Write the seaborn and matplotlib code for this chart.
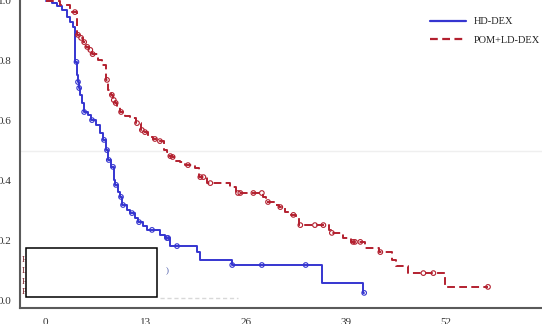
import matplotlib
matplotlib.use("Agg")
import matplotlib.pyplot as plt
from matplotlib.patches import Rectangle
from matplotlib.lines import Line2D
import seaborn as sns
import pandas as pd

# ---- data ----
hd_t = [0, 0.82, 1.47, 2.12, 2.77, 3.16, 3.55, 3.87, 4.07, 4.15, 4.28, 4.46, 4.7, 4.98, 5.5, 5.9,
        6.5, 7.06, 7.45, 7.84, 8.1, 8.49, 8.88, 9.0, 9.4, 9.66, 9.92, 10.57, 10.96, 11.6, 12.0,
        12.65, 13.17, 14.86, 15.5, 16.16, 19.7, 20.1, 24.2, 35.9, 41.3, 41.4]
hd_s = [1.0, 0.993, 0.983, 0.97, 0.947, 0.93, 0.913, 0.797, 0.753, 0.73, 0.71, 0.687, 0.66, 0.63, 0.62, 0.603,
        0.587, 0.56, 0.537, 0.503, 0.47, 0.447, 0.403, 0.387, 0.363, 0.347, 0.32, 0.303, 0.293, 0.277, 0.263,
        0.25, 0.237, 0.22, 0.21, 0.183, 0.163, 0.137, 0.12, 0.06, 0.027, 0.027]
hd_cens_t = [4.0, 4.2, 4.35, 5.0, 6.02, 7.58, 7.97, 8.2, 8.75, 9.14, 9.79, 10.05, 11.22, 12.13,
             13.82, 15.77, 15.9, 17.07, 24.25, 28.1, 33.8, 41.4]
hd_cens_s = [0.797, 0.73, 0.71, 0.63, 0.603, 0.537, 0.503, 0.47, 0.447, 0.387, 0.347, 0.32, 0.293, 0.263,
             0.237, 0.21, 0.21, 0.183, 0.12, 0.12, 0.12, 0.027]

pom_t = [0, 1.86, 3.16, 4.07, 4.4, 4.8, 5.2, 5.6, 6.0, 6.8, 7.3, 7.84, 8.1, 8.5, 8.75, 9.0, 9.3, 9.66,
         10.3, 10.96, 11.74, 12.4, 12.8, 13.3, 13.95, 14.6, 15.4, 15.77, 16.0, 16.4, 16.9, 17.45, 18.1,
         19.4, 19.9, 21.0, 24.0, 24.7, 28.3, 28.6, 29.8, 30.3, 31.1, 31.9, 32.5, 32.9, 36.8, 37.1, 38.7,
         39.7, 41.5, 43.3, 45.0, 45.6, 47.1, 51.9, 57.5]
pom_s = [1.0, 0.987, 0.963, 0.887, 0.877, 0.863, 0.847, 0.837, 0.823, 0.803, 0.787, 0.737, 0.703, 0.687,
         0.67, 0.66, 0.647, 0.63, 0.617, 0.61, 0.593, 0.57, 0.563, 0.547, 0.54, 0.533, 0.503, 0.497, 0.483,
         0.48, 0.467, 0.463, 0.453, 0.443, 0.413, 0.393, 0.38, 0.36, 0.347, 0.33, 0.32, 0.313, 0.297, 0.287,
         0.277, 0.253, 0.237, 0.227, 0.21, 0.197, 0.177, 0.163, 0.137, 0.117, 0.093, 0.047, 0.047]
pom_cens_t = [3.8, 4.2, 4.6, 5.0, 5.4, 5.8, 6.1, 7.97, 8.6, 8.85, 9.1, 9.8, 11.87, 12.5, 12.9, 14.2, 14.85,
              16.2, 16.5, 18.5, 20.1, 20.5, 21.4, 25.0, 25.3, 27.0, 28.1, 28.9, 30.5, 32.2, 33.1, 35.0,
              36.1, 37.2, 39.95, 40.2, 40.9, 43.5, 49.1, 50.4, 57.5]
pom_cens_s = [0.963, 0.887, 0.877, 0.863, 0.847, 0.837, 0.823, 0.737, 0.687, 0.67, 0.66, 0.63, 0.593, 0.57,
              0.563, 0.54, 0.533, 0.483, 0.48, 0.453, 0.413, 0.413, 0.393, 0.36, 0.36, 0.36, 0.36, 0.33,
              0.313, 0.287, 0.253, 0.253, 0.253, 0.227, 0.197, 0.197, 0.197, 0.163, 0.093, 0.093, 0.047]

groups = ["HD-DEX", "POM+LD-DEX"]
x_ticks = [0, 13, 26, 39, 52]
y_ticks = [0.0, 0.2, 0.4, 0.6, 0.8, 1.0]

BLUE = "#3535d0"
RED = "#b3202f"

sns.set_theme(style="white")
plt.rcParams["font.family"] = ["Liberation Serif", "DejaVu Serif"]

W, H = 542, 324
fig = plt.figure(figsize=(W / 100, H / 100), dpi=100)

# axes geometry in pixels
ax_left, ax_right, ax_bottom, ax_top = 19.5, 560, 307.5, -10
ax = fig.add_axes([ax_left / W, (H - ax_bottom) / H, (ax_right - ax_left) / W, (ax_bottom - ax_top) / H])

px_per_unit_x = 100 / 13.0
x0_px = 45.7
ax.set_xlim((ax_left - x0_px) / px_per_unit_x, (ax_right - x0_px) / px_per_unit_x)
ax.set_ylim((301 - ax_bottom) / 300, (301 - ax_top) / 300)

ax.axhline(0.5, color="#efefef", lw=1.0, zorder=0)

df_hd = pd.DataFrame({"t": hd_t, "s": hd_s})
df_pom = pd.DataFrame({"t": pom_t, "s": pom_s})

sns.lineplot(data=df_hd, x="t", y="s", ax=ax, color=BLUE, lw=1.4, drawstyle="steps-post",
             estimator=None, sort=False)
sns.lineplot(data=df_pom, x="t", y="s", ax=ax, color=RED, lw=1.4, drawstyle="steps-post",
             estimator=None, sort=False, dashes=False)
ax.lines[-1].set_dashes((4, 2.2))

sns.scatterplot(x=hd_cens_t, y=hd_cens_s, ax=ax, marker="o", s=11, facecolors="none",
                edgecolor=BLUE, linewidth=0.8, zorder=5)
sns.scatterplot(x=pom_cens_t, y=pom_cens_s, ax=ax, marker="o", s=11, facecolors="none",
                edgecolor=RED, linewidth=0.8, zorder=5)

ax.set_xticks(x_ticks)
ax.set_xticklabels([str(v) for v in x_ticks])
ax.set_yticks(y_ticks)
ax.set_yticklabels([f"{v:.1f}" for v in y_ticks])
ax.set_xlabel("")
ax.set_ylabel("")
for side in ["top", "right"]:
    ax.spines[side].set_visible(False)
for side in ["left", "bottom"]:
    ax.spines[side].set_color("#5a5a5a")
    ax.spines[side].set_linewidth(1.5)
ax.tick_params(axis="both", direction="out", length=4.3, width=1.2, color="#5a5a5a",
               labelsize=8, labelcolor="#333333")
ax.tick_params(axis="y", pad=1.5)
ax.tick_params(axis="x", pad=3)

# legend
handles = [Line2D([], [], color=BLUE, lw=1.6),
           Line2D([], [], color=RED, lw=1.6, dashes=(3.5, 2))]
fig.legend(handles, groups, loc="upper left", bbox_to_anchor=(426 / W, 1 - 13 / H),
           frameon=False, fontsize=7.5, handlelength=3.4, handletextpad=0.75,
           labelspacing=0.85, borderaxespad=0, borderpad=0.4, labelcolor="#222222")

# annotation block partly covered by a white box
rows = ["HR = 0.48", "Log-rank P < 0.0001", "HD-DEX median", "POM+LD-DEX median"]
row_y = [260, 271, 282, 292]
for txt, yy in zip(rows, row_y):
    fig.text(22 / W, 1 - yy / H, txt, fontsize=6.5, color="#7a1f25", va="center", ha="left")
fig.text(166 / W, 1 - 271 / H, ")", fontsize=6.5, color="#4a5aa8", va="center", ha="left")
fig.add_artist(Line2D([160 / W, 238 / W], [1 - 298 / H, 1 - 298 / H], transform=fig.transFigure,
                      color="#d8d8d8", lw=1.0, dashes=(3, 2)))
fig.add_artist(Rectangle((26 / W, 1 - 297 / H), 131 / W, 49 / H, transform=fig.transFigure,
                         facecolor="white", edgecolor="black", lw=1.1, zorder=10))

fig.savefig("out.png", dpi=100)
